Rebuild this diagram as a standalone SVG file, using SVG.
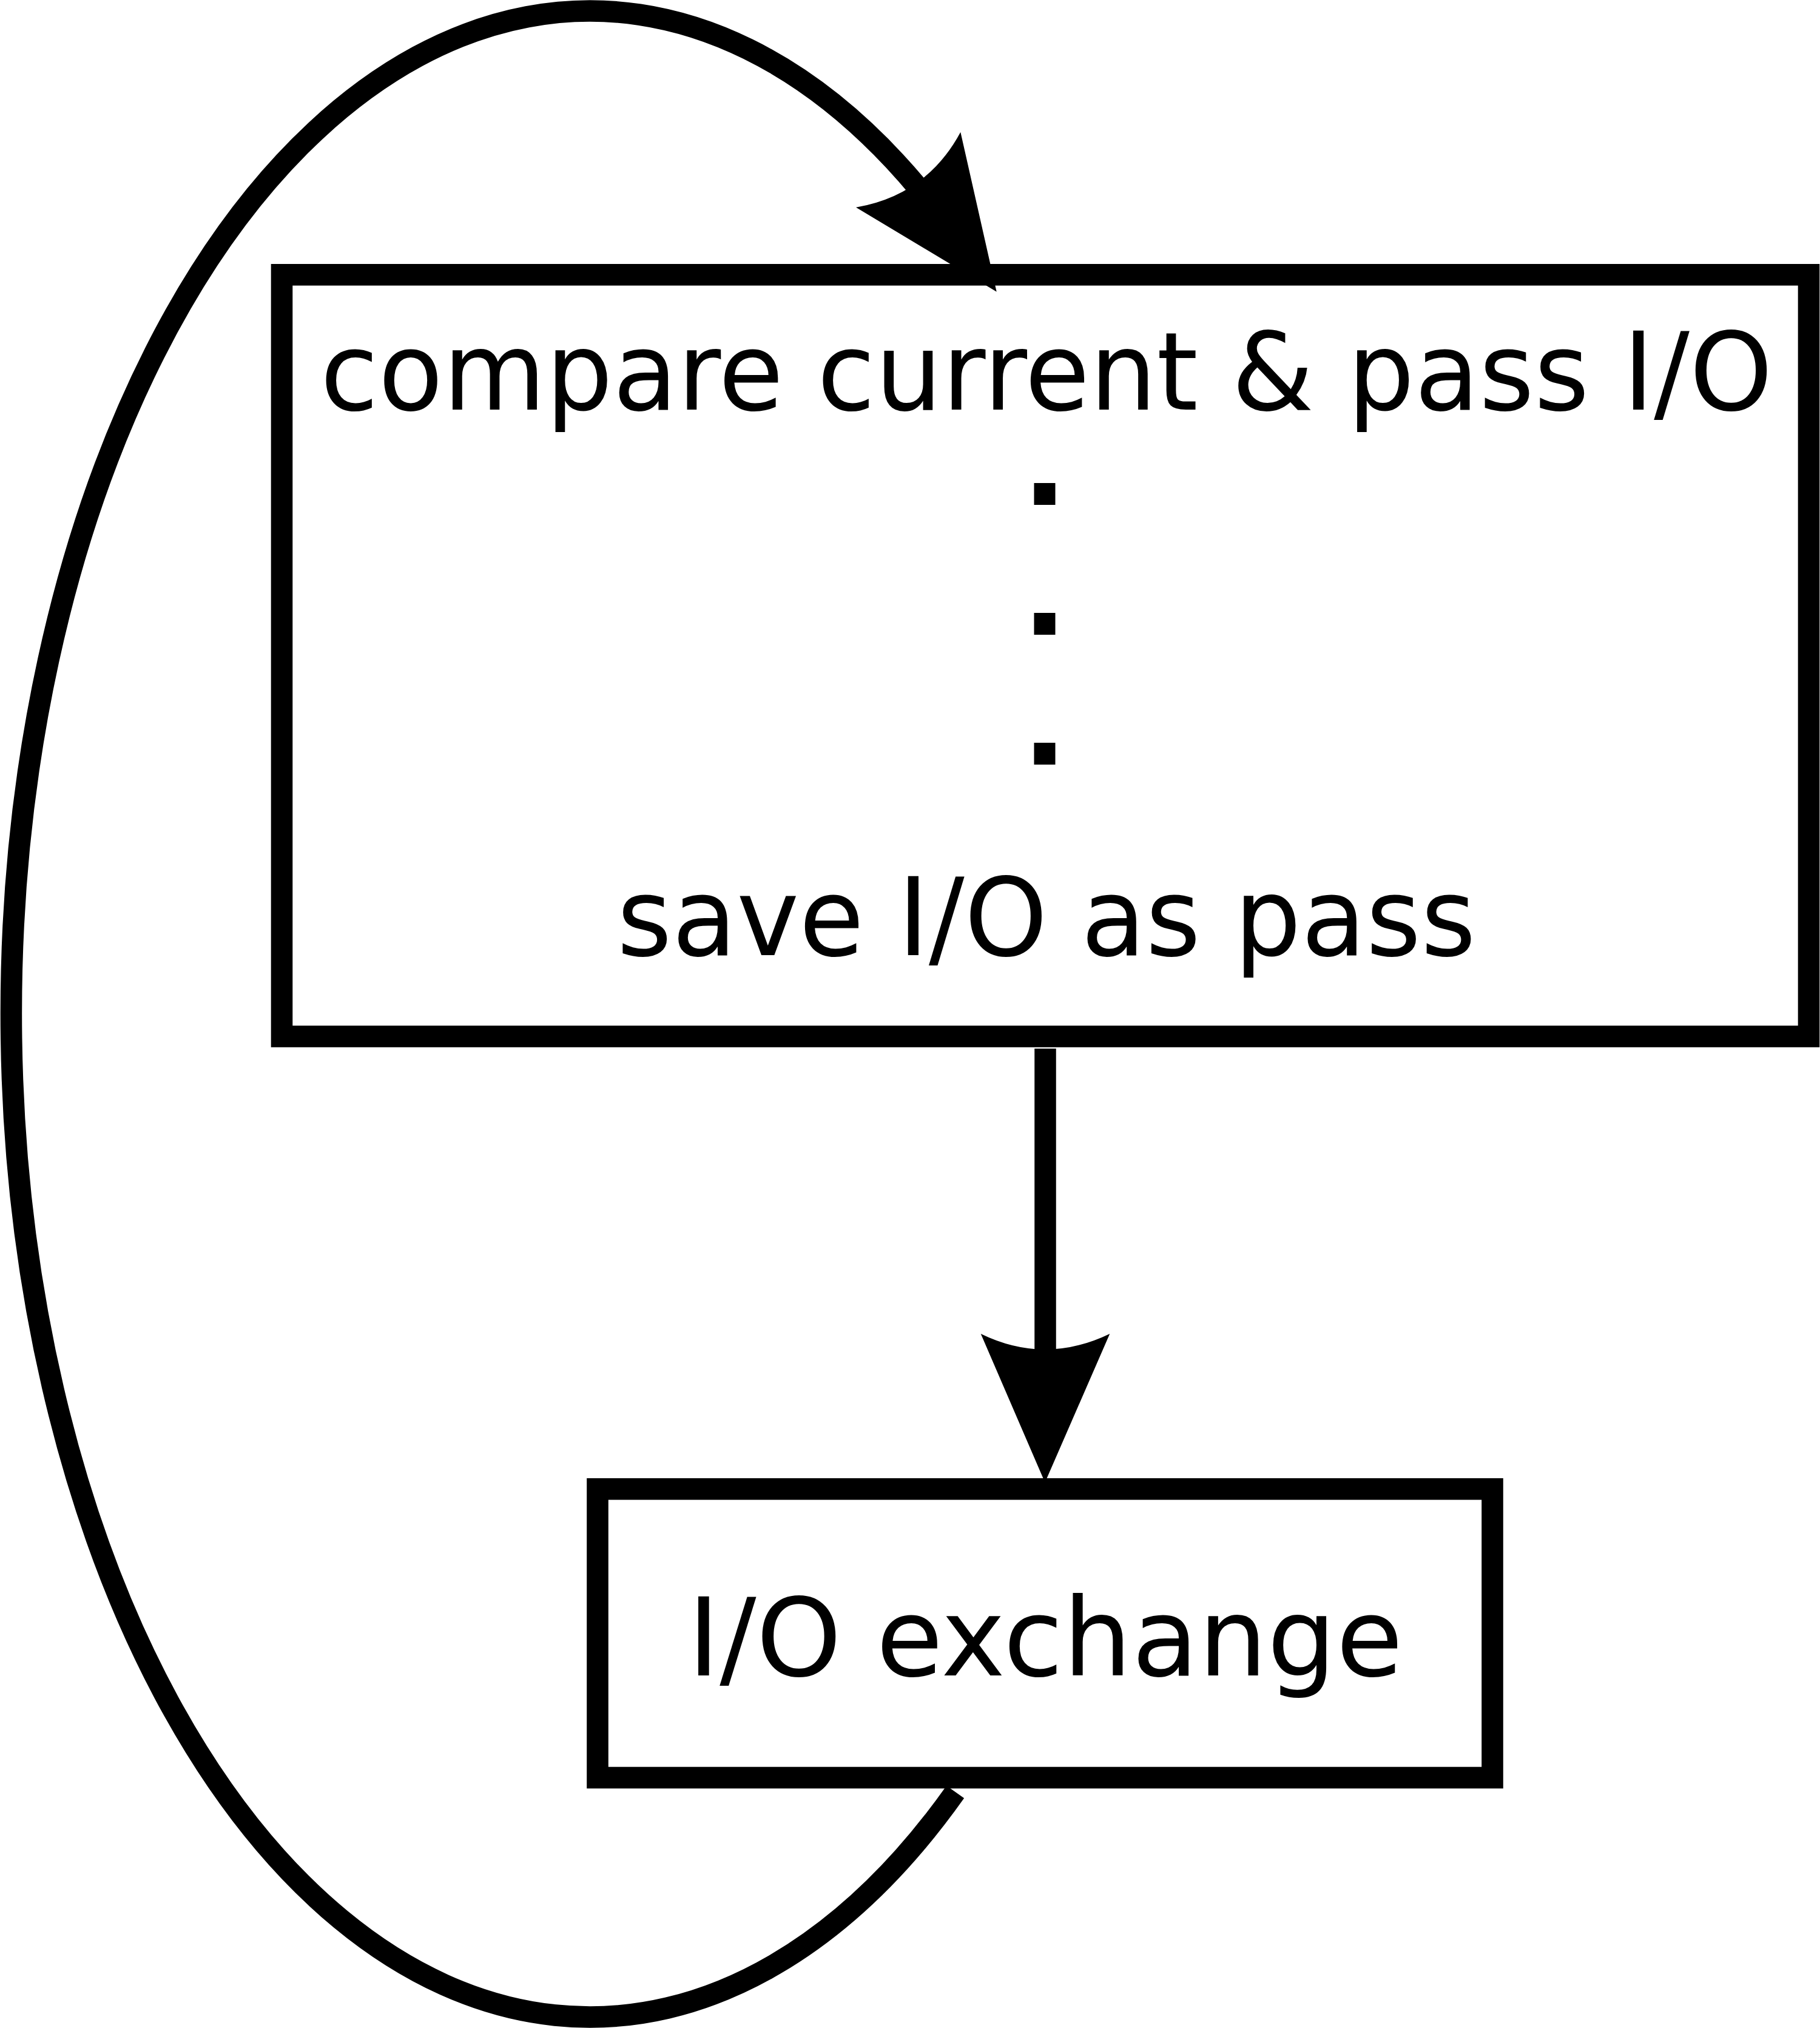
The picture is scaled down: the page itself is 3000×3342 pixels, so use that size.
<svg xmlns="http://www.w3.org/2000/svg" width="3000" height="3342" viewBox="0 0 3000 3342">
  <style>
    .box { fill: #ffffff; stroke: #000000; stroke-width: 35.6; }
    .label { font-family: "DejaVu Sans", Verdana, sans-serif; font-size: 178px; fill: #000000; text-anchor: middle; }
    .dot { fill: #000000; }
    .conn { fill: none; stroke: #000000; stroke-width: 35.5; stroke-linecap: butt; }
    .head { fill: #000000; stroke: none; }
  </style>
  <rect x="0" y="0" width="3000" height="3342" fill="#ffffff"/>
  <g id="node-compare">
    <rect class="box" x="464.5" y="452.8" width="2517" height="1255.2"/>
    <text class="label" x="1725" y="675" textLength="2394" lengthAdjust="spacingAndGlyphs">compare current &amp; pass I/O</text>
    <rect class="dot" x="1704.5" y="796" width="35" height="36"/>
    <rect class="dot" x="1704.5" y="1010" width="35" height="36"/>
    <rect class="dot" x="1704.5" y="1224" width="35" height="36"/>
    <text class="label" x="1725" y="1573.7" textLength="1416" lengthAdjust="spacingAndGlyphs">save I/O as pass</text>
  </g>
  <g id="node-exchange">
    <rect class="box" x="985" y="2453.8" width="1475" height="475.7"/>
    <text class="label" x="1723" y="2760.5" textLength="1179" lengthAdjust="spacingAndGlyphs">I/O exchange</text>
  </g>
  <g id="connectors">
    <g id="edge-compare-exchange">
      <line class="conn" x1="1723" y1="1728" x2="1723" y2="2230"/>
      <path class="head" d="M 1722.5 2443 L 1616.7 2198 Q 1722.5 2249.6 1829.3 2198 Z"/>
    </g>
    <g id="edge-exchange-compare">
      <path class="conn" d="M 1574.7 2953 A 954 1653 0 1 1 1538.2 340"/>
      <path class="head" d="M 1642.7 480.7 L 1583.3 217.7 Q 1527.5 321.5 1411 341.7 Z"/>
    </g>
  </g>
</svg>
